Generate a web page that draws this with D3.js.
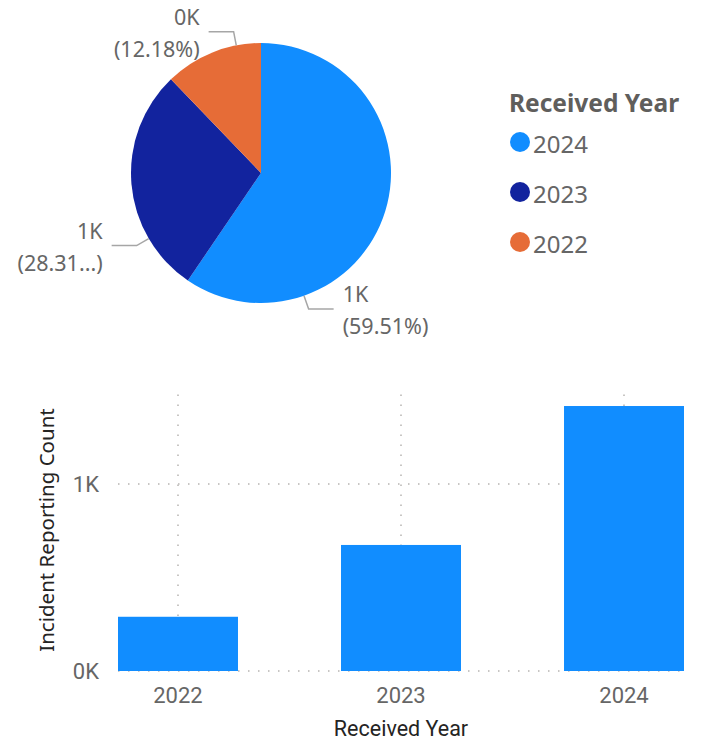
<!DOCTYPE html>
<html>
<head>
<meta charset="utf-8">
<script src="https://cdn.jsdelivr.net/npm/d3@7"></script>
<style>
  html, body { margin: 0; padding: 0; background: #ffffff; }
  svg { display: block; }
</style>
</head>
<body>
<svg id="chart" width="701" height="742"></svg>
<script>
// ---- data ----
const years = ["2022", "2023", "2024"];
const counts = [290, 674, 1417];
const pieOrder = ["2024", "2023", "2022"];
const colors = { "2024": "#118DFF", "2023": "#12239E", "2022": "#E66C37" };
const yTicks = [0, 1000];
const yTickLabels = ["0K", "1K"];
const legendTitle = "Received Year";
const xAxisTitle = "Received Year";
const yAxisTitle = "Incident Reporting Count";

const svg = d3.select("#chart");
const labelFont = "'Noto Sans', 'Open Sans', sans-serif";
const axisFont = "Roboto, 'Noto Sans', sans-serif";
const gray = "#666666";
const dark = "#252423";

// ---- pie ----
const valueOf = y => counts[years.indexOf(y)];
const total = d3.sum(counts);
const cx = 261, cy = 173, R = 130;
const pie = d3.pie().sort(null).value(d => valueOf(d));
const arcs = pie(pieOrder);
const arc = d3.arc().innerRadius(0).outerRadius(R);
const gPie = svg.append("g").attr("transform", `translate(${cx},${cy})`);
gPie.selectAll("path").data(arcs).enter().append("path")
  .attr("d", arc).attr("fill", d => colors[d.data]);

// leader anchor position as a fraction along each slice (layout choice)
const leaderFrac = { "2024": 0.75, "2023": 0.25, "2022": 0.75 };
const fmtK = v => Math.round(v / 1000) + "K";
arcs.forEach(d => {
  const a = d.startAngle + (d.endAngle - d.startAngle) * leaderFrac[d.data];
  const sx = Math.sin(a), sy = -Math.cos(a);
  const p0 = [R * sx, R * sy];
  const p1 = [(R + 14) * sx, (R + 14) * sy];
  const right = sx > 0;
  const p2 = [p1[0] + (right ? 25 : -25), p1[1]];
  gPie.append("polyline")
    .attr("points", [p0, p1, p2].map(p => p.join(",")).join(" "))
    .attr("fill", "none").attr("stroke", "#A6A6A6").attr("stroke-width", 1.5);
  const tx = p2[0] + (right ? 9 : -9);
  const anchor = right ? "start" : "end";
  const pct = "(" + (d.value / total * 100).toFixed(2) + "%)";
  gPie.append("text").attr("x", tx).attr("y", p2[1] - 15)
    .attr("text-anchor", anchor).attr("dominant-baseline", "central")
    .attr("font-family", labelFont).attr("font-size", 21.5).attr("fill", gray)
    .text(fmtK(d.value));
  const t2 = gPie.append("text").attr("x", tx).attr("y", p2[1] + 17)
    .attr("text-anchor", anchor).attr("dominant-baseline", "central")
    .attr("font-family", labelFont).attr("font-size", 21.5).attr("fill", gray)
    .text(pct);
  // truncate if label runs too close to the left edge
  if (!right) {
    const left = cx + tx - t2.node().getComputedTextLength();
    if (left < 20) {
      let s = pct.slice(1, -2);
      t2.text("(" + s + "...)");
      while (s.length > 1 && cx + tx - t2.node().getComputedTextLength() < 8) {
        s = s.slice(0, -1);
        t2.text("(" + s + "...)");
      }
    }
  }
});

// ---- legend ----
const gLeg = svg.append("g");
gLeg.append("text").attr("x", 509).attr("y", 102)
  .attr("dominant-baseline", "central")
  .attr("font-family", labelFont).attr("font-weight", 700).attr("font-size", 24.5)
  .attr("fill", "#605E5C").text(legendTitle);
pieOrder.forEach((y, i) => {
  const yy = 142 + i * 50;
  gLeg.append("circle").attr("cx", 520).attr("cy", yy).attr("r", 10).attr("fill", colors[y]);
  gLeg.append("text").attr("x", 533).attr("y", yy + 1)
    .attr("dominant-baseline", "central")
    .attr("font-family", labelFont).attr("font-size", 24).attr("fill", gray).text(y);
});

// ---- bar chart ----
const x = d3.scaleBand().domain(years).range([118, 684]).paddingInner(0.462).paddingOuter(0);
const y = d3.scaleLinear().domain([0, 1500]).range([671, 390.5]);

const gGrid = svg.append("g");
years.forEach(yr => {
  gGrid.append("line")
    .attr("x1", x(yr) + x.bandwidth() / 2).attr("x2", x(yr) + x.bandwidth() / 2)
    .attr("y1", y.range()[1] + 4).attr("y2", y(0))
    .attr("stroke", "#C8C6C4").attr("stroke-width", 2).attr("stroke-dasharray", "1.5,8.5");
});
yTicks.forEach(t => {
  gGrid.append("line")
    .attr("x1", x.range()[0]).attr("x2", x.range()[1])
    .attr("y1", y(t)).attr("y2", y(t))
    .attr("stroke", "#C8C6C4").attr("stroke-width", 2).attr("stroke-dasharray", "1.5,8.5");
});

svg.append("g").selectAll("rect").data(years).enter().append("rect")
  .attr("x", d => x(d)).attr("width", x.bandwidth())
  .attr("y", d => y(valueOf(d))).attr("height", d => y(0) - y(valueOf(d)))
  .attr("fill", "#118DFF");

// y axis
const yAxis = d3.axisLeft(y).tickValues(yTicks).tickFormat((d, i) => yTickLabels[i]).tickSize(0).tickPadding(0);
const gY = svg.append("g").attr("transform", "translate(99,0)").call(yAxis);
gY.select(".domain").remove();
gY.selectAll("text").attr("font-family", axisFont).attr("font-size", 22).attr("fill", gray)
  .attr("dy", "0.36em");

// x axis
const xAxis = d3.axisBottom(x).tickSize(0).tickPadding(0);
const gX = svg.append("g").attr("transform", "translate(0,687)").call(xAxis);
gX.select(".domain").remove();
gX.selectAll("text").attr("font-family", axisFont).attr("font-size", 22).attr("fill", gray)
  .attr("dy", "0.71em");

svg.append("text").attr("x", (x.range()[0] + x.range()[1]) / 2).attr("y", 728)
  .attr("text-anchor", "middle").attr("dominant-baseline", "central")
  .attr("font-family", axisFont).attr("font-size", 21.5).attr("fill", dark).text(xAxisTitle);

svg.append("text").attr("transform", "translate(46,530) rotate(-90)")
  .attr("text-anchor", "middle").attr("dominant-baseline", "central")
  .attr("font-family", labelFont).attr("font-size", 20.5).attr("fill", dark).text(yAxisTitle);
</script>
</body>
</html>
